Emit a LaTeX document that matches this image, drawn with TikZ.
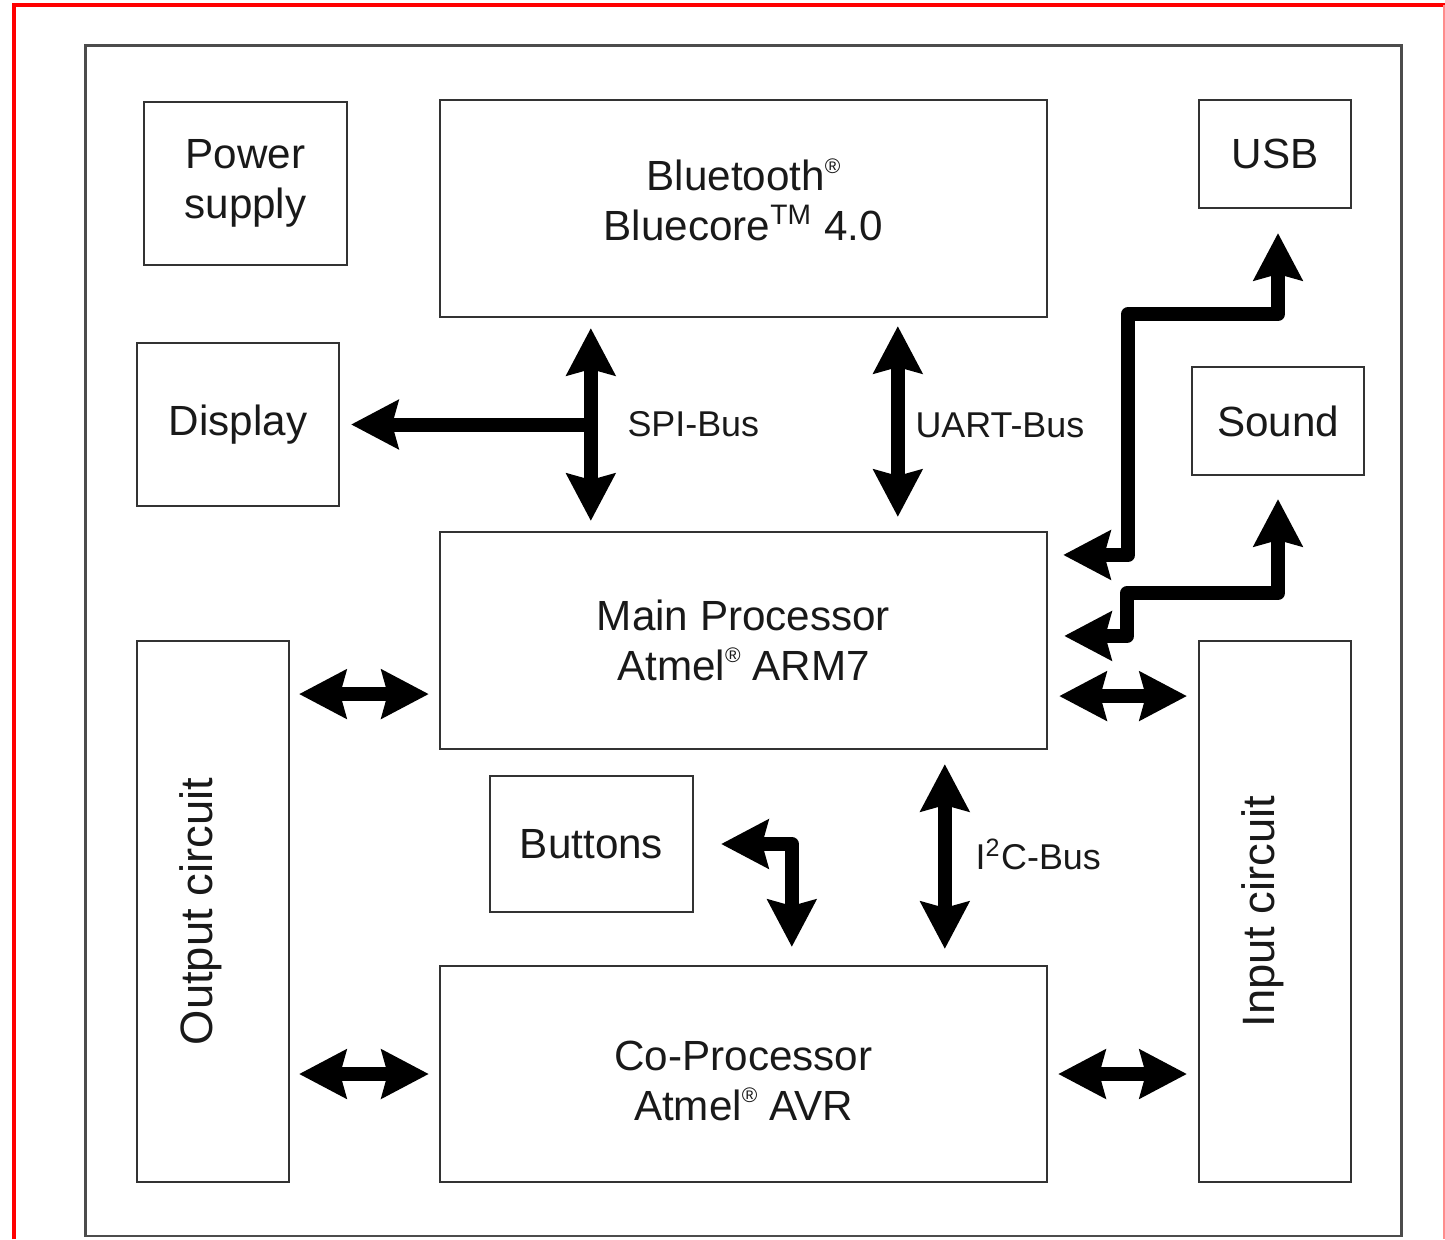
\documentclass[tikz,border=0pt]{standalone}
\usepackage{fontspec}
\setmainfont{Liberation Sans}
\usetikzlibrary{arrows.meta,calc}
\newcommand{\regmark}{\raisebox{0.8ex}{\fontsize{6}{6}\selectfont ®}}
\tikzset{
  Bt/.tip={Stealth[length=0.47cm,width=0.48cm,inset=0.06cm]},
  box/.style={draw=black!80, line width=0.02cm, inner sep=0pt, align=center,
              text=black!90, font=\fontsize{12}{14.3}\selectfont},
  txt/.style={inner sep=0pt, align=center, text=black!90, font=\fontsize{12}{14}\selectfont},
  rottext/.style={rotate=90, inner sep=0pt, text=black!90, font=\fontsize{12.9}{15}\selectfont},
  buslabel/.style={inner sep=0pt, anchor=west, text=black!90, font=\fontsize{10.2}{12}\selectfont},
  dbl/.style={line width=0.14cm, line join=round, arrows={Bt-Bt}},
  sgl/.style={line width=0.14cm, line join=round, arrows={-Bt}},
  frame/.style={draw=black!70, line width=0.028cm}
}
\begin{document}
\begin{tikzpicture}[x=0.01cm,y=-0.01cm]
\useasboundingbox (0,0) rectangle (1445,1239);
% red frame of the screenshot
\draw[red, line width=0.04cm] (13.7,1239) -- (13.7,5.3) -- (1445,5.3);
\draw[red!45, line width=0.012cm] (1444,5.3) -- (1444,1239);
% outer box
\node[frame, minimum width=13.15cm, minimum height=11.895cm] (outer) at (743.5,640.8) {};
% blocks
\node[box, minimum width=2.03cm, minimum height=1.63cm] (pow) at (245.5,183.5) {Power\\supply};
\node[box, minimum width=6.07cm, minimum height=2.17cm] (bt) at (743.5,208.5) {};
\node[txt] (btT) at ($(bt.center)+(0,-9)$) {Bluetooth\regmark\\Bluecore\textsuperscript{TM} 4.0};
\node[box, minimum width=1.52cm, minimum height=1.08cm] (usb) at (1275,154) {USB};
\node[box, minimum width=2.02cm, minimum height=1.63cm] (disp) at (238,424.5) {Display};
\node[box, minimum width=1.72cm, minimum height=1.08cm] (snd) at (1278,421) {Sound};
\node[box, minimum width=6.07cm, minimum height=2.17cm] (main) at (743.5,640.5) {};
\node[txt] (mainT) at ($(main.center)+(0,0)$) {Main Processor\\Atmel\regmark{} ARM7};
\node[box, minimum width=1.52cm, minimum height=5.41cm] (out) at (213,911.5) {};
\node[box, minimum width=1.52cm, minimum height=5.41cm] (in) at (1275,911.5) {};
\node[box, minimum width=2.03cm, minimum height=1.36cm] (btn) at (591.5,844) {Buttons};
\node[box, minimum width=6.07cm, minimum height=2.16cm] (co) at (743.5,1074) {};
\node[txt] (coT) at ($(co.center)+(0,7)$) {Co-Processor\\Atmel\regmark{} AVR};
\node[rottext] (outT) at ($(out.center)+(-12,0)$) {Output circuit};
\node[rottext] (inT) at ($(in.center)+(-12,0)$) {Input circuit};
% helper coordinates
\coordinate (sx) at ($(bt.south west)+(152,0)$);
\coordinate (ux) at ($(bt.south west)+(459,0)$);
\coordinate (ix) at ($(main.south west)+(506,0)$);
\coordinate (bx) at ($(co.north west)+(353,0)$);
\coordinate (spiJ) at (sx |- disp.east);
\coordinate (mo) at ($(main.south west)+(0,-56)$);
\coordinate (mi) at ($(main.south east)+(0,-54)$);
\coordinate (ua) at ($(main.north east)+(0,24)$);
\coordinate (uh) at ($(usb.south)+(3,105)$);
\coordinate (sa) at ($(main.north east)+(0,105)$);
\coordinate (sh) at ($(snd.south)+(0,117)$);
% SPI bus
\draw[dbl, shorten <=0.1cm, shorten >=0.1cm] (bt.south -| sx) -- (main.north -| sx);
\draw[sgl, shorten >=0.11cm] (spiJ) -- (disp.east);
\node[buslabel] (spiL) at ($(spiJ)+(36,0)$) {SPI-Bus};
% UART bus
\draw[dbl, shorten <=0.08cm, shorten >=0.14cm] (bt.south -| ux) -- (main.north -| ux);
\node[buslabel] (uartL) at ($(bt.south -| ux)+(17,107)$) {UART-Bus};
% I2C bus
\draw[dbl, shorten <=0.14cm, shorten >=0.16cm] (main.south -| ix) -- (co.north -| ix);
\node[buslabel] (i2cL) at ($(main.south -| ix)+(30,104)$) {I\textsuperscript{2}C-Bus};
% Buttons
\draw[dbl, shorten <=0.18cm, shorten >=0.27cm] (co.north -| bx) |- (btn.east);
% USB and Sound
\draw[dbl, shorten <=0.15cm, shorten >=0.24cm] (main.east |- ua) -- ++(80,0) |- (uh) -- (usb.south -| uh);
\draw[dbl, shorten <=0.16cm, shorten >=0.23cm] (main.east |- sa) -- ++(79,0) |- (sh) -- (snd.south -| sh);
% side links
\draw[dbl, shorten <=0.09cm, shorten >=0.10cm] (out.east |- mo) -- (main.west |- mo);
\draw[dbl, shorten <=0.11cm, shorten >=0.11cm] (main.east |- mi) -- (in.west |- mi);
\draw[dbl, shorten <=0.09cm, shorten >=0.10cm] (out.east |- co.west) -- (co.west);
\draw[dbl, shorten <=0.10cm, shorten >=0.11cm] (co.east) -- (in.west |- co.east);
\end{tikzpicture}
\end{document}
